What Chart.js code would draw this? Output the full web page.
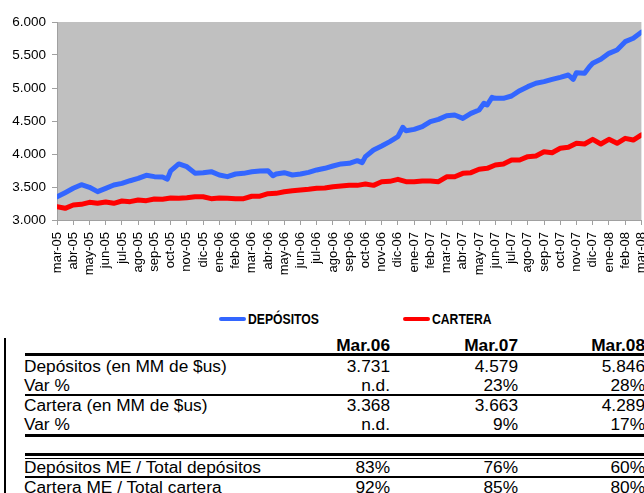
<!DOCTYPE html>
<html lang="es">
<head>
<meta charset="utf-8">
<title>Depósitos y Cartera</title>
<script src="https://cdn.jsdelivr.net/npm/chart.js@4.4.1/dist/chart.umd.min.js"></script>
<style>
    html, body { margin: 0; padding: 0; overflow: hidden; background: #fff; }
    body { width: 644px; height: 493px; position: relative; font-family: "Liberation Sans", Arial, sans-serif; color: #000; }
    #grafico { position: absolute; left: 0; top: 0; width: 664px; height: 300px; }
    .abs { position: absolute; white-space: nowrap; }
    .leyenda-linea { position: absolute; height: 4px; width: 27px; border-radius: 2px; top: 317px; }
    .leyenda-txt { position: absolute; top: 310px; line-height: 18px; font-family: "Liberation Sans Narrow", "Arial Narrow", "Liberation Sans", sans-serif; font-weight: bold; font-size: 14px; transform: scaleX(0.87); transform-origin: left center; }
    .txt { position: absolute; font-size: 17.3px; line-height: 20px; white-space: nowrap; }
    .num { position: absolute; font-size: 17.3px; line-height: 20px; text-align: right; width: 120px; }
    .raya { position: absolute; left: 25px; width: 619px; background: #000; }
</style>
</head>
<body>
<div id="grafico"><canvas id="chartCanvas" width="664" height="300"></canvas></div>

<!-- leyenda -->
<div class="leyenda-linea" style="left:219px; background:#3366FF;"></div>
<div class="leyenda-txt" style="left:248px;">DEPÓSITOS</div>
<div class="leyenda-linea" style="left:403px; background:#FF0000;"></div>
<div class="leyenda-txt" style="left:432px;">CARTERA</div>

<!-- tabla -->
<div class="abs" style="left:4px; top:338px; width:2px; height:155px; background:#000;"></div>
<div id="tabla"></div>

<script>
// --- datos ---
const etiquetasMes = ['mar-05','abr-05','may-05','jun-05','jul-05','ago-05','sep-05','oct-05','nov-05','dic-05','ene-06','feb-06',
    'mar-06','abr-06','may-06','jun-06','jul-06','ago-06','sep-06','oct-06','nov-06','dic-06','ene-07','feb-07',
    'mar-07','abr-07','may-07','jun-07','jul-07','ago-07','sep-07','oct-07','nov-07','dic-07','ene-08','feb-08','mar-08'];

const ticksY = [3000, 3500, 4000, 4500, 5000, 5500, 6000];

// posición en meses desde mar-05
const mesDepositos = [0,0.5,1,1.5,2,2.5,3,3.5,4,4.5,5,5.5,6,6.5,6.8,7,7.5,8,8.5,9,9.5,10,10.5,11,11.5,12,12.5,13,13.3,13.5,
    14,14.5,15,15.5,16,16.5,17,17.5,18,18.5,18.8,19,19.5,20,20.5,21,21.3,21.5,22,22.5,23,23.5,24,24.5,25,25.5,26,26.3,26.5,26.8,27,
    27.5,28,28.5,29,29.5,30,30.5,31,31.5,31.8,32,32.5,32.8,33,33.5,34,34.5,35,35.5,36];
const depositos = [3350,3414,3480,3535,3495,3430,3480,3530,3555,3595,3630,3677,3657,3651,3620,3745,3850,3808,3710,3717,3732,3682,3657,3697,3707,3731,3742,3745,3670,3697,
    3717,3682,3697,3722,3758,3783,3818,3850,3859,3899,3870,3960,4061,4121,4187,4262,4404,4353,4373,4414,4490,4525,4579,4591,4540,4616,4667,4768,4742,4859,4843,
    4843,4879,4960,5020,5071,5096,5131,5162,5197,5131,5232,5222,5323,5374,5434,5525,5576,5702,5753,5846];

const mesCartera = [0,0.5,1,1.5,2,2.5,3,3.5,4,4.5,5,5.5,6,6.5,7,7.5,8,8.5,9,9.5,10,10.5,11,11.5,12,12.5,13,13.5,14,14.5,
    15,15.5,16,16.5,17,17.5,18,18.5,19,19.5,20,20.5,21,21.5,22,22.5,23,23.5,24,24.5,25,25.5,26,26.5,27,27.5,28,28.5,29,29.5,
    30,30.5,31,31.5,32,32.5,33,33.5,34,34.5,35,35.5,36];
const cartera = [3202,3177,3227,3237,3268,3253,3273,3253,3288,3278,3303,3293,3318,3313,3333,3328,3338,3353,3353,3323,
    3333,3328,3323,3323,3360,3360,3399,3404,3429,3444,3454,3465,3480,3485,3505,3515,3525,3525,3545,3525,
    3580,3586,3616,3580,3580,3591,3591,3580,3655,3656,3707,3717,3768,3783,3833,3848,3909,3909,3960,3970,
    4035,4020,4086,4101,4162,4151,4222,4151,4222,4162,4237,4212,4289];

// tabla
const columnas = ['Mar.06', 'Mar.07', 'Mar.08'];
const filas = [
    ['Depósitos (en MM de $us)', '3.731', '4.579', '5.846'],
    ['Var %', 'n.d.', '23%', '28%'],
    ['Cartera (en MM de $us)', '3.368', '3.663', '4.289'],
    ['Var %', 'n.d.', '9%', '17%'],
    ['Depósitos ME / Total depósitos', '83%', '76%', '60%'],
    ['Cartera ME / Total cartera', '92%', '85%', '80%']
];

// --- armar la tabla ---
const tabla = document.getElementById('tabla');
const bordeDerecho = [390, 518, 645];
const centroFila = [366, 384.5, 405, 423.5, 467, 486.5];
const rayas = [[353, 3], [394, 2], [433.5, 3], [453, 3], [457.5, 1.5], [476, 2]];

columnas.forEach((c, i) => {
    const d = document.createElement('div');
    d.className = 'num';
    d.style.fontWeight = 'bold';
    d.style.left = (bordeDerecho[i] - 120) + 'px';
    d.style.top = (345 - 10) + 'px';
    d.textContent = c;
    tabla.appendChild(d);
});
filas.forEach((f, r) => {
    const t = document.createElement('div');
    t.className = 'txt';
    t.style.left = '24px';
    t.style.top = (centroFila[r] - 10) + 'px';
    t.textContent = f[0];
    tabla.appendChild(t);
    for (let i = 1; i < f.length; i++) {
        const d = document.createElement('div');
        d.className = 'num';
        d.style.left = (bordeDerecho[i - 1] - 120) + 'px';
        d.style.top = (centroFila[r] - 10) + 'px';
        d.textContent = f[i];
        tabla.appendChild(d);
    }
});
rayas.forEach(([y, h]) => {
    const l = document.createElement('div');
    l.className = 'raya';
    l.style.top = y + 'px';
    l.style.height = h + 'px';
    tabla.appendChild(l);
});

// --- gráfico ---
const fondoPlot = {
    id: 'fondoPlot',
    beforeDraw(chart) {
        const { ctx, chartArea: a } = chart;
        ctx.save();
        ctx.fillStyle = '#C0C0C0';
        ctx.fillRect(a.left, a.top, a.right - a.left, a.bottom - a.top);
        ctx.restore();
    }
};

const ctx = document.getElementById('chartCanvas').getContext('2d');
new Chart(ctx, {
    type: 'line',
    data: {
        datasets: [
            {
                label: 'DEPÓSITOS',
                data: mesDepositos.map((m, i) => ({ x: m, y: depositos[i] })),
                borderColor: '#3366FF',
                borderWidth: 5,
                pointRadius: 0,
                tension: 0,
                borderJoinStyle: 'round',
                borderCapStyle: 'round'
            },
            {
                label: 'CARTERA',
                data: mesCartera.map((m, i) => ({ x: m, y: cartera[i] })),
                borderColor: '#FF0000',
                borderWidth: 5,
                pointRadius: 0,
                tension: 0,
                borderJoinStyle: 'round',
                borderCapStyle: 'round'
            }
        ]
    },
    options: {
        responsive: false,
        animation: false,
        layout: { padding: { left: 12, top: 22, right: 7, bottom: 0 } },
        plugins: {
            legend: { display: false },
            tooltip: { enabled: false }
        },
        scales: {
            x: {
                type: 'linear',
                min: 0,
                max: etiquetasMes.length - 1,
                afterBuildTicks(scale) {
                    scale.ticks = etiquetasMes.map((_, i) => ({ value: i }));
                },
                afterFit(scale) { scale.height = 80; },
                ticks: {
                    autoSkip: false,
                    minRotation: 90,
                    maxRotation: 90,
                    padding: 7,
                    color: '#000',
                    font: { family: '"Liberation Sans", Arial, sans-serif', size: 13 },
                    callback: (v) => etiquetasMes[v]
                },
                grid: { drawOnChartArea: false, drawTicks: true, tickLength: 5, color: '#A0A0A0' },
                border: { display: true, color: '#A0A0A0' }
            },
            y: {
                min: 3000,
                max: 6000,
                afterBuildTicks(scale) {
                    scale.ticks = ticksY.map(v => ({ value: v }));
                },
                afterFit(scale) { scale.width = 45; },
                ticks: {
                    padding: 6,
                    color: '#000',
                    font: { family: '"Liberation Sans", Arial, sans-serif', size: 13.5 },
                    callback: (v) => v.toLocaleString('de-DE', { minimumFractionDigits: 0 }).replace(',', '.')
                },
                grid: { drawOnChartArea: false, drawTicks: true, tickLength: 5, color: '#A0A0A0' },
                border: { display: true, color: '#A0A0A0' }
            }
        }
    },
    plugins: [fondoPlot]
});
</script>
</body>
</html>
